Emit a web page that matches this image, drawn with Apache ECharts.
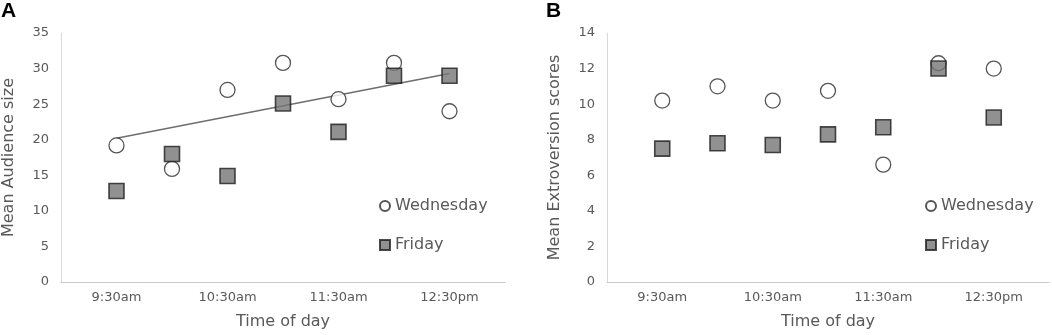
<!DOCTYPE html>
<html>
<head>
<meta charset="utf-8">
<script src="https://cdn.jsdelivr.net/npm/echarts@6/dist/echarts.min.js"></script>
<style>
  html, body { margin: 0; padding: 0; background: #fff; }
  #chart { width: 1052px; height: 335px; }
</style>
</head>
<body>
<div id="chart"></div>
<script>
// x positions of the seven sessions (1..7), labels only on every second slot
const timeLabels = ['', '9:30am', '', '10:30am', '', '11:30am', '', '12:30pm', ''];
const slots = [1, 2, 3, 4, 5, 6, 7];

// Panel A - mean audience size
const audienceWed = [19.2, 15.9, 27.0, 30.8, 25.7, 30.8, 24.0];
const audienceFri = [12.8, 18.0, 14.9, 25.1, 21.1, 29.0, 29.0];
// trendline endpoints
const audienceTrend = [[1, 20.2], [7, 29.3]];

// Panel B - mean extroversion scores
const extroWed = [10.2, 11.0, 10.2, 10.75, 6.6, 12.3, 12.0];
const extroFri = [7.5, 7.8, 7.7, 8.3, 8.7, 12.0, 9.25];

const chart = echarts.init(document.getElementById('chart'));

const font = 'DejaVu Sans';
const grey = '#595959';

const pairs = (ys) => slots.map((x, i) => [x, ys[i]]);

function xAxisFor(gridIndex) {
    return {
        type: 'value', gridIndex: gridIndex,
        min: 0, max: 8, interval: 1,
        name: 'Time of day', nameLocation: 'middle', nameGap: 32,
        nameTextStyle: {fontFamily: font, fontSize: 16, color: grey},
        axisLine: {lineStyle: {color: '#c8c8c8', width: 1}},
        axisTick: {show: false},
        splitLine: {show: false},
        axisLabel: {
            fontFamily: font, fontSize: 13, color: grey, margin: 9,
            formatter: (v) => timeLabels[v] || ''
        }
    };
}

function yAxisFor(gridIndex, name, max, step) {
    return {
        type: 'value', gridIndex: gridIndex,
        min: 0, max: max, interval: step,
        name: name, nameLocation: 'middle', nameGap: 44,
        nameTextStyle: {fontFamily: font, fontSize: 16, color: grey},
        axisLine: {show: true, lineStyle: {color: '#d9d9d9', width: 1}},
        axisTick: {show: false},
        splitLine: {show: false},
        axisLabel: {fontFamily: font, fontSize: 13, color: grey, margin: 12}
    };
}

const wedStyle = {color: '#ffffff', borderColor: '#2b2b2b', borderWidth: 1.3};
const friStyle = {color: '#767676', borderColor: '#1e1e1e', borderWidth: 1.6};

function legendFor(left) {
    return {
        orient: 'vertical', left: left, top: 193,
        itemWidth: 10, itemHeight: 10, itemGap: 23,
        textStyle: {fontFamily: font, fontSize: 16, color: grey},
        data: [
            {name: 'Wednesday', icon: 'circle'},
            {name: 'Friday', icon: 'rect'}
        ]
    };
}

const panelTitle = {fontFamily: 'Liberation Sans', fontWeight: 'bold', fontSize: 21, color: '#000'};

let option = {
    animation: false,
    title: [
        {text: 'A', left: 1, top: 1, padding: 0, textStyle: panelTitle},
        {text: 'B', left: 546, top: 1, padding: 0, textStyle: panelTitle}
    ],
    legend: [legendFor(374), legendFor(920)],
    grid: [
        {left: 61, top: 33, width: 444, height: 250},
        {left: 607, top: 33, width: 443, height: 250}
    ],
    xAxis: [xAxisFor(0), xAxisFor(1)],
    yAxis: [
        yAxisFor(0, 'Mean Audience size', 35, 5),
        yAxisFor(1, 'Mean Extroversion scores', 14, 2)
    ],
    series: [
        {
            type: 'line', xAxisIndex: 0, yAxisIndex: 0, z: 1,
            data: audienceTrend, symbol: 'none', silent: true,
            lineStyle: {color: '#6e6e6e', width: 1.5}
        },
        {
            name: 'Wednesday', type: 'scatter', xAxisIndex: 0, yAxisIndex: 0, z: 2,
            symbol: 'circle', symbolSize: 15, data: pairs(audienceWed), itemStyle: wedStyle
        },
        {
            name: 'Friday', type: 'scatter', xAxisIndex: 0, yAxisIndex: 0, z: 3,
            symbol: 'rect', symbolSize: 15, data: pairs(audienceFri), itemStyle: friStyle
        },
        {
            name: 'Wednesday', type: 'scatter', xAxisIndex: 1, yAxisIndex: 1, z: 2,
            symbol: 'circle', symbolSize: 15, data: pairs(extroWed), itemStyle: wedStyle
        },
        {
            name: 'Friday', type: 'scatter', xAxisIndex: 1, yAxisIndex: 1, z: 3,
            symbol: 'rect', symbolSize: 15, data: pairs(extroFri), itemStyle: friStyle
        }
    ]
};

chart.setOption(option);
</script>
</body>
</html>
